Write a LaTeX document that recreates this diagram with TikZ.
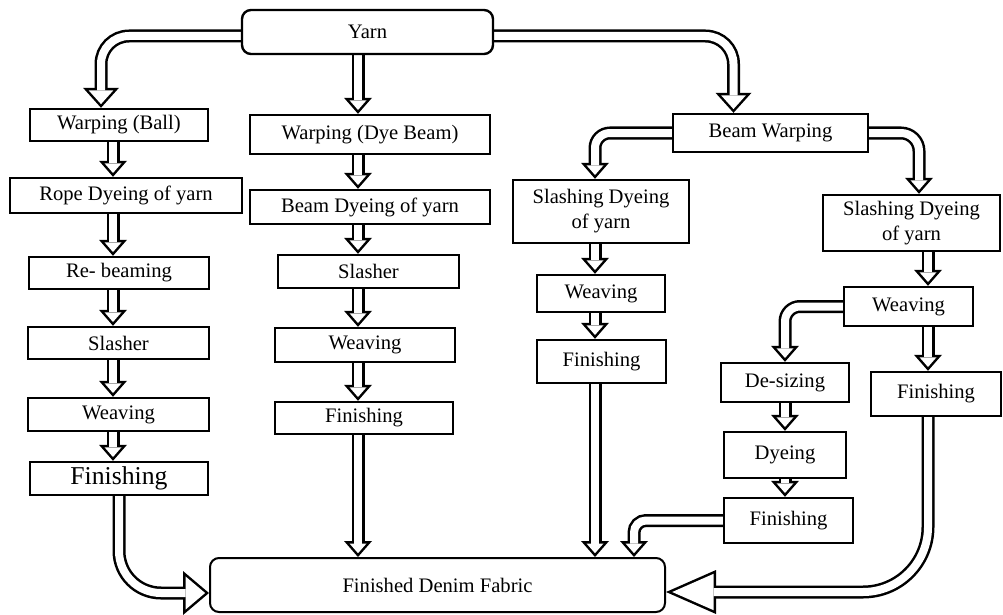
\documentclass[tikz,border=0pt]{standalone}
\usepackage{fontspec}
\setmainfont{Liberation Serif}
\usetikzlibrary{arrows.meta,backgrounds}

\tikzset{
  box/.style={draw, line width=2.4pt, fill=white, inner sep=0pt, align=center,
    font=\fontsize{20.6}{25}\selectfont},
  endbox/.style={box, rounded corners=9pt},
  % hollow arrows: black outline underneath, white core on top
  pipe/.style={white, line width=8pt, shorten >=3.8pt,
    -{Triangle[width=17pt, length=9.7pt, line width=0pt]},
    preaction={draw=black, line width=13pt, shorten >=0pt,
      -{Triangle[width=28pt, length=16pt, line width=0pt]}}},
  widepipe/.style={white, line width=8pt, shorten >=3.7pt,
    -{Triangle[width=24.8pt, length=13.8pt, line width=0pt]},
    preaction={draw=black, line width=13pt, shorten >=0pt,
      -{Triangle[width=36pt, length=20pt, line width=0pt]}}},
  bigpipe/.style={white, line width=8pt, shorten >=3.9pt,
    -{Triangle[width=33.2pt, length=19.6pt, line width=0pt]},
    preaction={draw=black, line width=13pt, shorten >=0pt,
      -{Triangle[width=44pt, length=26pt, line width=0pt]}}},
  longpipe/.style={white, line width=8pt, shorten >=6.2pt,
    -{Triangle[width=36.3pt, length=41.3pt, line width=0pt]},
    preaction={draw=black, line width=13pt, shorten >=0pt,
      -{Triangle[width=44pt, length=50pt, line width=0pt]}}},
}

\begin{document}
\begin{tikzpicture}[x=1pt, y=-1pt]
  \useasboundingbox (0,0) rectangle (1003,615);

  \node[endbox, minimum width=251pt, minimum height=44pt] (yarn) at (367.5,32) {Yarn};
  \node[endbox, line width=2pt, minimum width=455pt, minimum height=54pt] (denim) at (437.5,585) {Finished Denim Fabric};

  % name / x / y / width / height / text
  \foreach \n/\x/\y/\w/\h/\t in {
      wball/119/125/178/32/{Warping (Ball)},
      rope/126/195.5/232/35/{Rope Dyeing of yarn},
      rebeam/119/273/180/32/{Re- beaming},
      slasha/118.5/343/181/32/{Slasher},
      weavea/118.5/414.5/181/33/{Weaving},
      wdye/370/134.5/240/39/{Warping (Dye Beam)},
      beamdye/370/207/240/34/{Beam Dyeing of yarn},
      slashb/368.5/271.5/181/33/{Slasher},
      weaveb/365/345/180/34/{Weaving},
      finb/364/418/178/32/{Finishing},
      bwarp/770.5/133/195/38/{Beam Warping},
      sdyec/601/211.5/176/63/{Slashing Dyeing\\of yarn},
      weavec/601/293.5/128/37/{Weaving},
      finc/601.5/361.5/129/43/{Finishing},
      sdyed/911.5/223/177/56/{Slashing Dyeing\\of yarn},
      weaved/908.5/306.5/129/39/{Weaving},
      find/936/394/130/44/{Finishing},
      desize/785/382.5/128/39/{De-sizing},
      dye/785/455/122/46/{Dyeing},
      fine/788.5/520.5/129/45/{Finishing}}
    \node[box, minimum width=\w pt, minimum height=\h pt] (\n) at (\x,\y) {\t};
  \node[box, minimum width=178pt, minimum height=33pt, font=\fontsize{25.7}{30}\selectfont]
    (fina) at (119,478.5) {Finishing};

  \coordinate (c1) at (113,0);
  \coordinate (c2) at (358,0);
  \coordinate (c3) at (595,0);
  \coordinate (c4) at (928,0);
  \coordinate (c5) at (785,0);
  \coordinate (c6) at (919,0);
  \coordinate (c7) at (634,0);

  \begin{scope}[on background layer]
    \draw[widepipe, rounded corners=28pt] ([shift={(0,4)}]yarn.west) -| ([shift={(-18,0)}]wball.north);
    \draw[pipe] (yarn.south -| c2) -- (wdye.north -| c2);
    \draw[widepipe, rounded corners=28pt] ([shift={(0,4)}]yarn.east) -| ([shift={(-37,0)}]bwarp.north);

    \foreach \a/\b in {wball/rope, rope/rebeam, rebeam/slasha, slasha/weavea, weavea/fina}
      \draw[pipe] (\a.south -| c1) -- (\b.north -| c1);
    \foreach \a/\b in {wdye/beamdye, beamdye/slashb, slashb/weaveb, weaveb/finb, finb/denim}
      \draw[pipe] (\a.south -| c2) -- (\b.north -| c2);
    \foreach \a/\b in {sdyec/weavec, weavec/finc, finc/denim}
      \draw[pipe] (\a.south -| c3) -- (\b.north -| c3);
    \foreach \a/\b in {sdyed/weaved, weaved/find}
      \draw[pipe] (\a.south -| c4) -- (\b.north -| c4);
    \foreach \a/\b in {desize/dye, dye/fine}
      \draw[pipe] (\a.south -| c5) -- (\b.north -| c5);

    \draw[pipe, rounded corners=15pt] (bwarp.west) -| (sdyec.north -| c3);
    \draw[pipe, rounded corners=18pt] (bwarp.east) -| (sdyed.north -| c6);
    \draw[pipe, rounded corners=15pt] (weaved.west) -| (desize.north -| c5);
    \draw[pipe, rounded corners=12pt] (fine.west) -| (denim.north -| c7);

    \draw[bigpipe, rounded corners=42pt] (fina.south) |- ([shift={(0,8)}]denim.west);
    \draw[longpipe, rounded corners=65pt] (find.south -| c4) |- ([shift={(0,7)}]denim.east);
  \end{scope}
\end{tikzpicture}
\end{document}
